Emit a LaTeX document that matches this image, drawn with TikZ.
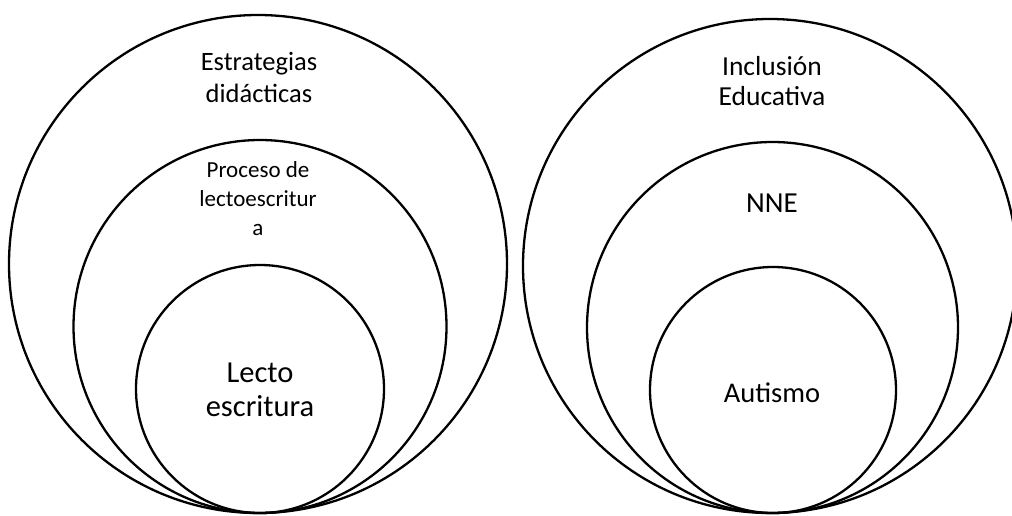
\documentclass[tikz,border=0pt]{standalone}
\usepackage{fontspec}
\setmainfont{Carlito}
\begin{document}
\begin{tikzpicture}[x=1pt,y=-1pt,
  ring/.style={circle,draw,line width=2.3pt,inner sep=0pt,minimum size=#1},
  lbl/.style={inner sep=0pt,align=center,anchor=base}]
\useasboundingbox (0,0) rectangle (1012,515);
% left set
\node[ring=498pt] (L1) at (258,264) {};
\node[ring=373pt] (L2) at (260,326.5) {};
\node[ring=248pt] (L3) at (260,389) {};
% right set
\node[ring=494pt] (R1) at (770,266) {};
\node[ring=371pt] (R2) at (772.5,327.5) {};
\node[ring=246pt] (R3) at (773,390) {};
% labels (anchor base = baseline of last line)
\node[lbl,font=\fontsize{26.5}{32}\selectfont] (tL1) at (259,102) {Estrategias\\did\'acticas};
\node[lbl,font=\fontsize{23}{29}\selectfont] (tL2) at (258,235) {Proceso de\\lectoescritur\\a};
\node[lbl,font=\fontsize{30.5}{34}\selectfont] (tL3) at (260,416) {Lecto\\escritura};
\node[lbl,font=\fontsize{27.5}{30}\selectfont] (tR1) at (772,105) {Inclusi\'on\\Educativa};
\node[lbl,font=\fontsize{29}{32}\selectfont] (tR2) at (772,212) {NNE};
\node[lbl,font=\fontsize{28.5}{32}\selectfont] (tR3) at (772,402) {Autismo};
\end{tikzpicture}
\end{document}
